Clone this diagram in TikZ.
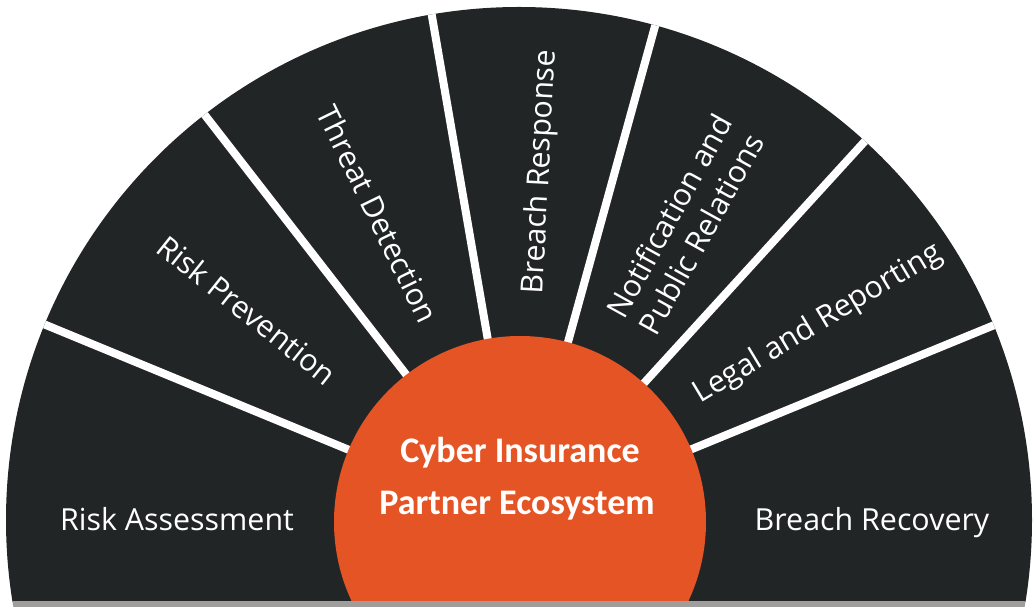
\documentclass[tikz,border=0pt]{standalone}
\usepackage{fontspec}
\setmainfont{Open Sans}
\newfontfamily\hubfont{Carlito}
\definecolor{fan}{HTML}{212526}
\definecolor{hubfill}{HTML}{E55425}
\definecolor{barfill}{HTML}{A09D9D}
\begin{document}
\begin{tikzpicture}[x=0.75pt,y=0.75pt,
  lbl/.style={text=white,font=\fontsize{22.8}{27.5}\selectfont,align=center,inner sep=0pt},
  hubtxt/.style={text=white,font=\hubfont\bfseries\fontsize{27}{32}\selectfont,inner sep=0pt},
  sep/.style={draw=white,line width=6pt}]
\useasboundingbox (0,0) rectangle (1033,607);
\coordinate (C) at (519,87);
\begin{scope}
  \clip (0,5) rectangle (1033,607);
  \fill[fan] (C) circle (513);
  \begin{scope}
    \clip (C) circle (513);
    \foreach \a in {22.3,47.6,74.6,99.8,127.8,157.6}
      \draw[sep] (C) -- ++(\a:600);
  \end{scope}
  \node[circle,fill=hubfill,minimum size=279pt,inner sep=0pt] (hub) at (520,85) {};
\end{scope}
\begin{scope}
  \clip (0,0) rectangle (1033,5);
  \fill[barfill] (C) circle (513);
\end{scope}
\node[hubtxt,anchor=base] (hubtop) at (520,144) {Cyber Insurance};
\node[hubtxt,anchor=base] (hubbot) at (517,92) {Partner Ecosystem};
\node[lbl,anchor=base] (ra) at (177,76) {Risk Assessment};
\node[lbl,anchor=base] (br) at (872,76) {Breach Recovery};
\node[lbl,rotate=-38.5] (rp) at (247,297) {Risk Prevention};
\node[lbl,rotate=-64] (td) at (378,393) {Threat Detection};
\node[lbl,rotate=87] (bresp) at (541,435) {Breach Response};
\node[lbl,rotate=61] (npr) at (685,382) {Notification and\\Public Relations};
\node[lbl,rotate=31] (lr) at (818,283) {Legal and Reporting};
\end{tikzpicture}
\end{document}
